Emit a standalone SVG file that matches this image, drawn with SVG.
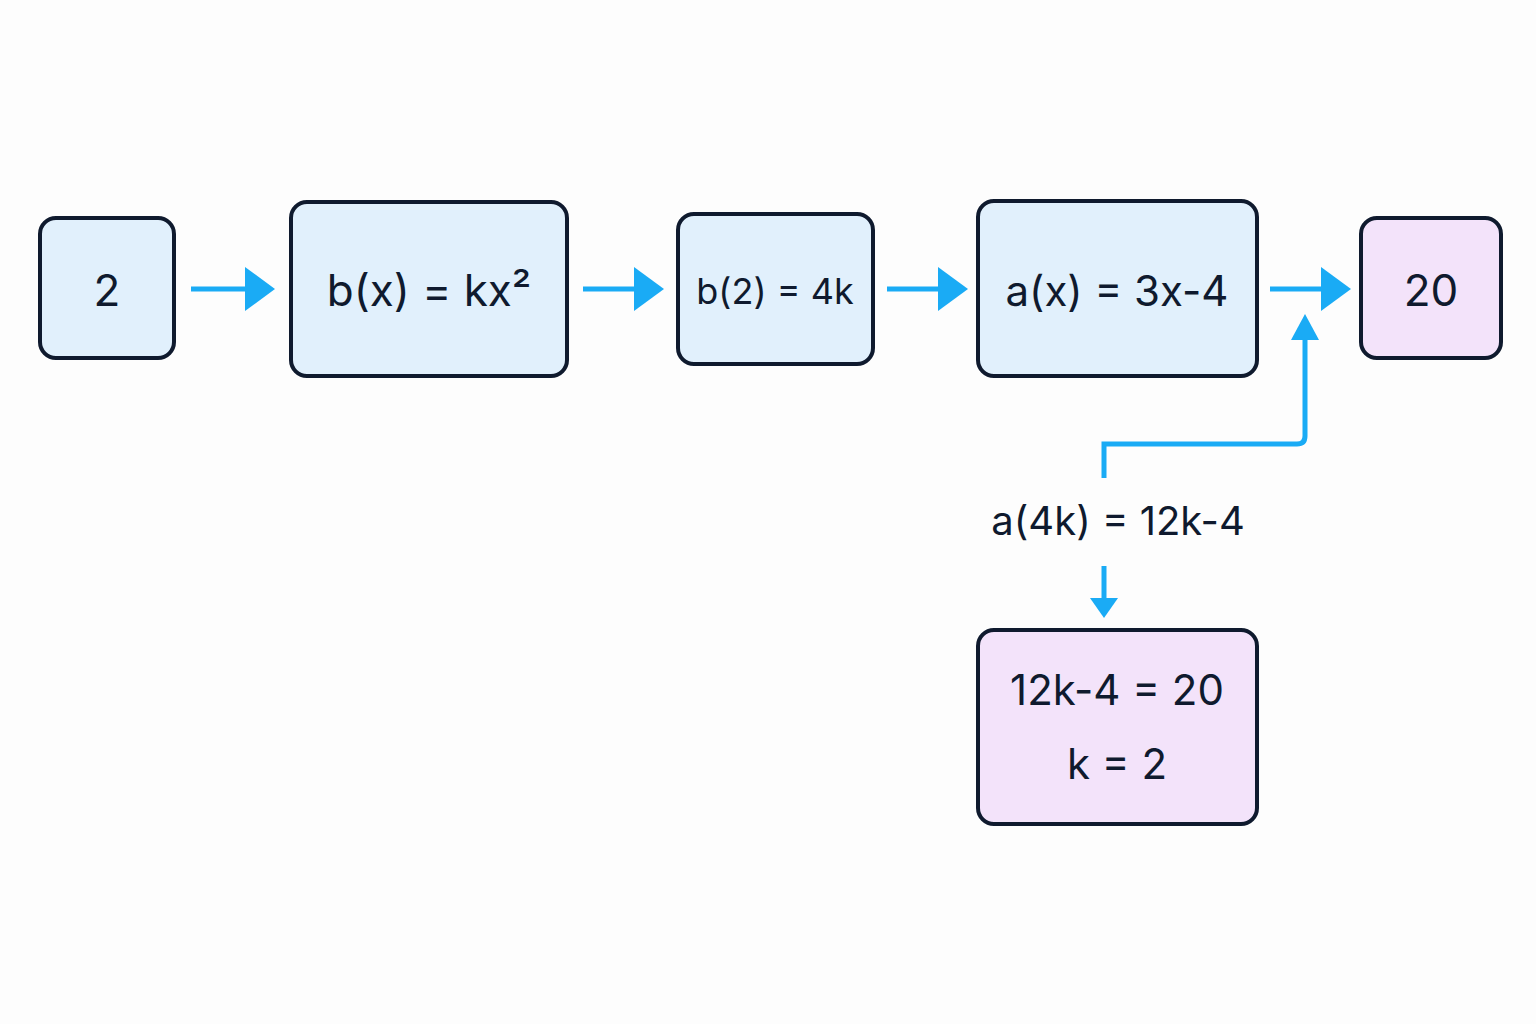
<svg xmlns="http://www.w3.org/2000/svg" width="1536" height="1024" viewBox="0 0 1536 1024">
<style>
.b{fill:#e1f0fc;stroke:#0f1a2e;stroke-width:4}
.p{fill:#f3e3fa;stroke:#0f1a2e;stroke-width:4}
text{font-family:Inter,"Liberation Sans",sans-serif;fill:#0f1a2e;text-anchor:middle;dominant-baseline:central}
.c{stroke:#1aabf5;stroke-width:5;fill:none}
</style>
<defs>
<marker id="a" markerWidth="6" markerHeight="8" refX="0" refY="4" orient="auto" markerUnits="userSpaceOnUse" viewBox="0 0 6 8"><path d="M0,0 L6,4 L0,8 Z" fill="#1aabf5"/></marker>
</defs>
<rect width="1536" height="1024" fill="#fdfdfd"/>
<g id="n1"><rect class="b" x="40" y="218" width="134" height="140" rx="16"/><text x="107" y="290" font-size="44">2</text></g>
<g id="n2"><rect class="b" x="291" y="202" width="276" height="174" rx="16"/><text x="429" y="290" font-size="44">b(x) = kx²</text></g>
<g id="n3"><rect class="b" x="678" y="214" width="195" height="150" rx="16"/><text x="775" y="291" font-size="36">b(2) = 4k</text></g>
<g id="n4"><rect class="b" x="978" y="201" width="279" height="175" rx="16"/><text x="1117" y="290" font-size="42">a(x) = 3x-4</text></g>
<g id="n5"><rect class="p" x="1361" y="218" width="140" height="140" rx="16"/><text x="1431" y="290" font-size="44">20</text></g>
<g id="n6"><rect class="p" x="978" y="630" width="279" height="194" rx="16"/><text x="1117" y="689" font-size="42">12k-4 = 20</text><text x="1117" y="763" font-size="42">k = 2</text></g>
<g id="lbl"><text x="1118" y="520" font-size="40">a(4k) = 12k-4</text></g>
<g id="connectors">
<path d="M191 289 H245" class="c" stroke-width="6"/><path d="M245 267 L275 289 L245 311 Z" fill="#1aabf5"/>
<path d="M583 289 H634" class="c" stroke-width="6"/><path d="M634 267 L664 289 L634 311 Z" fill="#1aabf5"/>
<path d="M887 289 H938" class="c" stroke-width="6"/><path d="M938 267 L968 289 L938 311 Z" fill="#1aabf5"/>
<path d="M1270 289 H1321" class="c" stroke-width="6"/><path d="M1321 267 L1351 289 L1321 311 Z" fill="#1aabf5"/>
<path d="M1104 478 V444 H1297 Q1305 444 1305 436 V338" class="c" stroke-width="4"/><path d="M1291 340 L1305 314 L1319 340 Z" fill="#1aabf5"/>
<path d="M1104 566 V600" class="c" stroke-width="4"/><path d="M1090 598 L1104 618 L1118 598 Z" fill="#1aabf5"/>
</g>
</svg>
